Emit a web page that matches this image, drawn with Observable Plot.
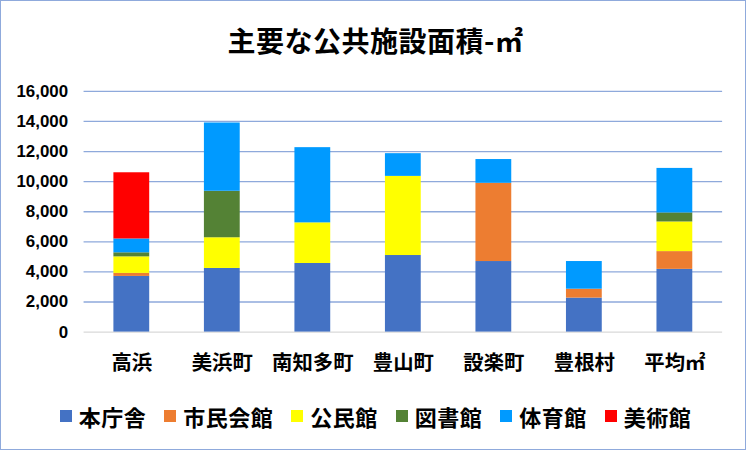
<!DOCTYPE html>
<html>
<head>
<meta charset="utf-8">
<script src="https://cdn.jsdelivr.net/npm/d3@7"></script>
<script src="https://cdn.jsdelivr.net/npm/@observablehq/plot@0.6"></script>
<style>
  html, body { margin: 0; padding: 0; background: #fff; }
  #frame {
    position: relative; width: 746px; height: 450px; box-sizing: border-box;
    border: 1px solid #8FAADC; background: #fff; overflow: hidden;
    font-family: "Noto Sans CJK JP", "Noto Sans", sans-serif;
  }
  #title {
    position: absolute; left: 0; top: 19px; width: 749px; text-align: center;
    font-size: 28px; font-weight: bold; color: #000; line-height: 40px; letter-spacing: 0.5px;
  }
  #chart { position: absolute; left: -1px; top: 69px; }
  #legend {
    position: absolute; left: 0; top: 399px; width: 749px; display: flex;
    justify-content: center; font-size: 22px; font-weight: bold; color: #000; line-height: 32px;
    letter-spacing: 0.5px;
  }
  #legend .item { display: flex; align-items: center; margin: 0 9px; }
  #legend .sw { width: 12px; height: 12px; margin-right: 7px; }
</style>
</head>
<body>
<div id="frame">
  <div id="title">主要な公共施設面積-㎡</div>
  <div id="chart"></div>
  <div id="legend"></div>
</div>
<script>
const categories = ["高浜", "美浜町", "南知多町", "豊山町", "設楽町", "豊根村", "平均㎡"];
const seriesNames = ["本庁舎", "市民会館", "公民館", "図書館", "体育館", "美術館"];
const seriesColors = ["#4472C4", "#ED7D31", "#FFFF00", "#548235", "#009AFF", "#FF0000"];

const honchosha = [3700, 4230, 4560, 5090, 4690, 2260, 4170];
const shiminKaikan = [200, 0, 0, 0, 5200, 590, 1180];
const kominkan = [1100, 2040, 2700, 5260, 0, 0, 1970];
const toshokan = [270, 3090, 0, 0, 0, 0, 600];
const taiikukan = [920, 4540, 5000, 1510, 1580, 1840, 2960];
const bijutsukan = [4400, 0, 0, 0, 0, 0, 0];

const yTicks = [0, 2000, 4000, 6000, 8000, 10000, 12000, 14000, 16000];

const seriesValues = [honchosha, shiminKaikan, kominkan, toshokan, taiikukan, bijutsukan];
const data = [];
seriesNames.forEach((s, si) => {
  categories.forEach((c, ci) => {
    data.push({category: c, series: s, value: seriesValues[si][ci]});
  });
});

const chart = Plot.plot({
  width: 749,
  height: 320,
  marginTop: 21,
  marginBottom: 57,
  marginLeft: 84,
  marginRight: 23,
  style: {fontFamily: "'Noto Sans CJK JP', sans-serif", color: "#000", background: "transparent"},
  x: {domain: categories, paddingInner: 0.6, paddingOuter: 0.3, label: null},
  y: {domain: [0, 16000], label: null},
  color: {domain: seriesNames, range: seriesColors},
  marks: [
    Plot.ruleY(yTicks.filter(d => d > 0), {stroke: "#8EA9DB", strokeWidth: 1.3}),
    Plot.ruleY([0], {stroke: "#D9D9D9", strokeWidth: 1.3}),
    Plot.barY(data, {x: "category", y: "value", fill: "series", order: seriesNames}),
    Plot.axisY({ticks: yTicks, tickSize: 0, tickPadding: 16, tickFormat: d3.format(","),
      fontSize: 17, fontWeight: "bold", fontFamily: "'Liberation Sans', Arial, sans-serif", label: null}),
    Plot.axisX({tickSize: 0, tickPadding: 24, fontSize: 20.5, fontWeight: "bold", label: null})
  ]
});
document.getElementById("chart").appendChild(chart);

const legend = document.getElementById("legend");
seriesNames.forEach((s, i) => {
  const item = document.createElement("div");
  item.className = "item";
  const sw = document.createElement("span");
  sw.className = "sw";
  sw.style.background = seriesColors[i];
  const t = document.createElement("span");
  t.textContent = s;
  item.appendChild(sw);
  item.appendChild(t);
  legend.appendChild(item);
});
</script>
</body>
</html>
